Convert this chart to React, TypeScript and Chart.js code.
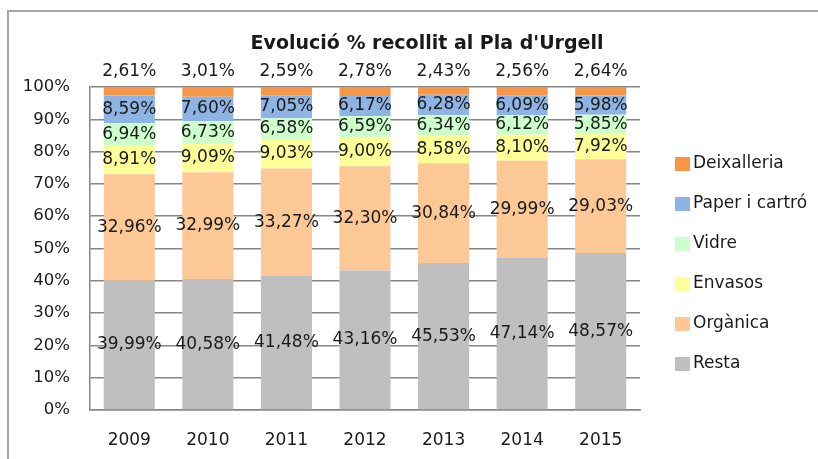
import React, { useEffect, useRef } from "react";
import { Chart, registerables } from "chart.js";

Chart.register(...registerables);

const years = ["2009", "2010", "2011", "2012", "2013", "2014", "2015"];
const resta = [39.99, 40.58, 41.48, 43.16, 45.53, 47.14, 48.57];
const organica = [32.96, 32.99, 33.27, 32.3, 30.84, 29.99, 29.03];
const envasos = [8.91, 9.09, 9.03, 9.0, 8.58, 8.1, 7.92];
const vidre = [6.94, 6.73, 6.58, 6.59, 6.34, 6.12, 5.85];
const paper = [8.59, 7.6, 7.05, 6.17, 6.28, 6.09, 5.98];
const deixalleria = [2.61, 3.01, 2.59, 2.78, 2.43, 2.56, 2.64];
const yTicks = [0, 10, 20, 30, 40, 50, 60, 70, 80, 90, 100];
const titleText = "Evolució % recollit al Pla d'Urgell";

const FONT = "'DejaVu Sans', sans-serif";
const TEXT = "#1a1a1a";

const fmt = (v: number) => v.toFixed(2).replace(".", ",") + "%";

const decorPlugin = {
  id: "decor",
  beforeDraw(chart: any) {
    const ctx = chart.ctx;
    ctx.save();
    ctx.fillStyle = "#ffffff";
    ctx.fillRect(0, 0, chart.width, chart.height);
    ctx.strokeStyle = "#a6a6a6";
    ctx.lineWidth = 2;
    ctx.strokeRect(8, 11, chart.width + 20, chart.height + 20);
    ctx.restore();
  },
  afterDraw(chart: any) {
    const ctx = chart.ctx;
    ctx.save();
    // title
    ctx.font = `bold 19px ${FONT}`;
    ctx.fillStyle = TEXT;
    ctx.textAlign = "center";
    ctx.textBaseline = "middle";
    ctx.fillText(titleText, 427, 44);

    // data labels
    ctx.font = `17px ${FONT}`;
    const n = chart.data.datasets.length;
    chart.data.datasets.forEach((ds: any, di: number) => {
      const meta = chart.getDatasetMeta(di);
      meta.data.forEach((el: any, i: number) => {
        const v = ds.data[i];
        let y: number;
        if (di === n - 1) {
          y = Math.min(el.y, el.base) - 15;
        } else {
          y = (el.y + el.base) / 2;
        }
        ctx.fillText(fmt(v), el.x, y);
      });
    });

    // legend
    ctx.textAlign = "left";
    ctx.font = `17px ${FONT}`;
    for (let k = 0; k < n; k++) {
      const ds: any = chart.data.datasets[n - 1 - k];
      const cy = 164 + k * 40;
      ctx.fillStyle = ds.backgroundColor;
      ctx.fillRect(675, cy - 7, 15, 14);
      ctx.fillStyle = TEXT;
      ctx.fillText(ds.label, 693, cy);
    }
    ctx.restore();
  },
};

export default function App() {
  const ref = useRef<HTMLCanvasElement | null>(null);

  useEffect(() => {
    if (!ref.current) return;
    const mk = (label: string, data: number[], color: string) => ({
      label,
      data,
      backgroundColor: color,
      borderWidth: 0,
      barPercentage: 0.65,
      categoryPercentage: 1,
    });
    const chart = new Chart(ref.current, {
      type: "bar",
      data: {
        labels: years,
        datasets: [
          mk("Resta", resta, "#bfbfbf"),
          mk("Orgànica", organica, "#fcc896"),
          mk("Envasos", envasos, "#ffff99"),
          mk("Vidre", vidre, "#ccffcc"),
          mk("Paper i cartró", paper, "#8eb4e3"),
          mk("Deixalleria", deixalleria, "#f79646"),
        ],
      },
      options: {
        responsive: false,
        animation: false,
        devicePixelRatio: 1,
        layout: { padding: { left: 8, top: 87, right: 178, bottom: 0 } },
        plugins: {
          legend: { display: false },
          title: { display: false },
          tooltip: { enabled: false },
        },
        scales: {
          x: {
            stacked: true,
            grid: { display: false, drawTicks: false },
            border: { display: true, color: "#868686", width: 1.5 },
            ticks: {
              font: { family: FONT, size: 17 },
              color: TEXT,
              padding: 20,
              maxRotation: 0,
            },
            afterFit: (s: any) => {
              s.height = 49;
            },
          },
          y: {
            stacked: true,
            min: 0,
            max: 100,
            afterBuildTicks: (s: any) => {
              s.ticks = yTicks.map((v) => ({ value: v }));
            },
            grid: { color: "#868686", lineWidth: 1.5, drawTicks: false },
            border: { display: true, color: "#868686", width: 1.5 },
            ticks: {
              font: { family: FONT, size: 16.5 },
              color: TEXT,
              padding: 20,
              callback: (v: any) => v + "%",
            },
            afterFit: (s: any) => {
              s.width = 82;
            },
          },
        },
      },
      plugins: [decorPlugin],
    });
    return () => chart.destroy();
  }, []);

  return (
    <div
      style={{
        position: "fixed",
        left: 0,
        top: 0,
        width: 818,
        height: 459,
        background: "#fff",
      }}
    >
      <canvas ref={ref} width={818} height={459} style={{ display: "block" }} />
    </div>
  );
}
